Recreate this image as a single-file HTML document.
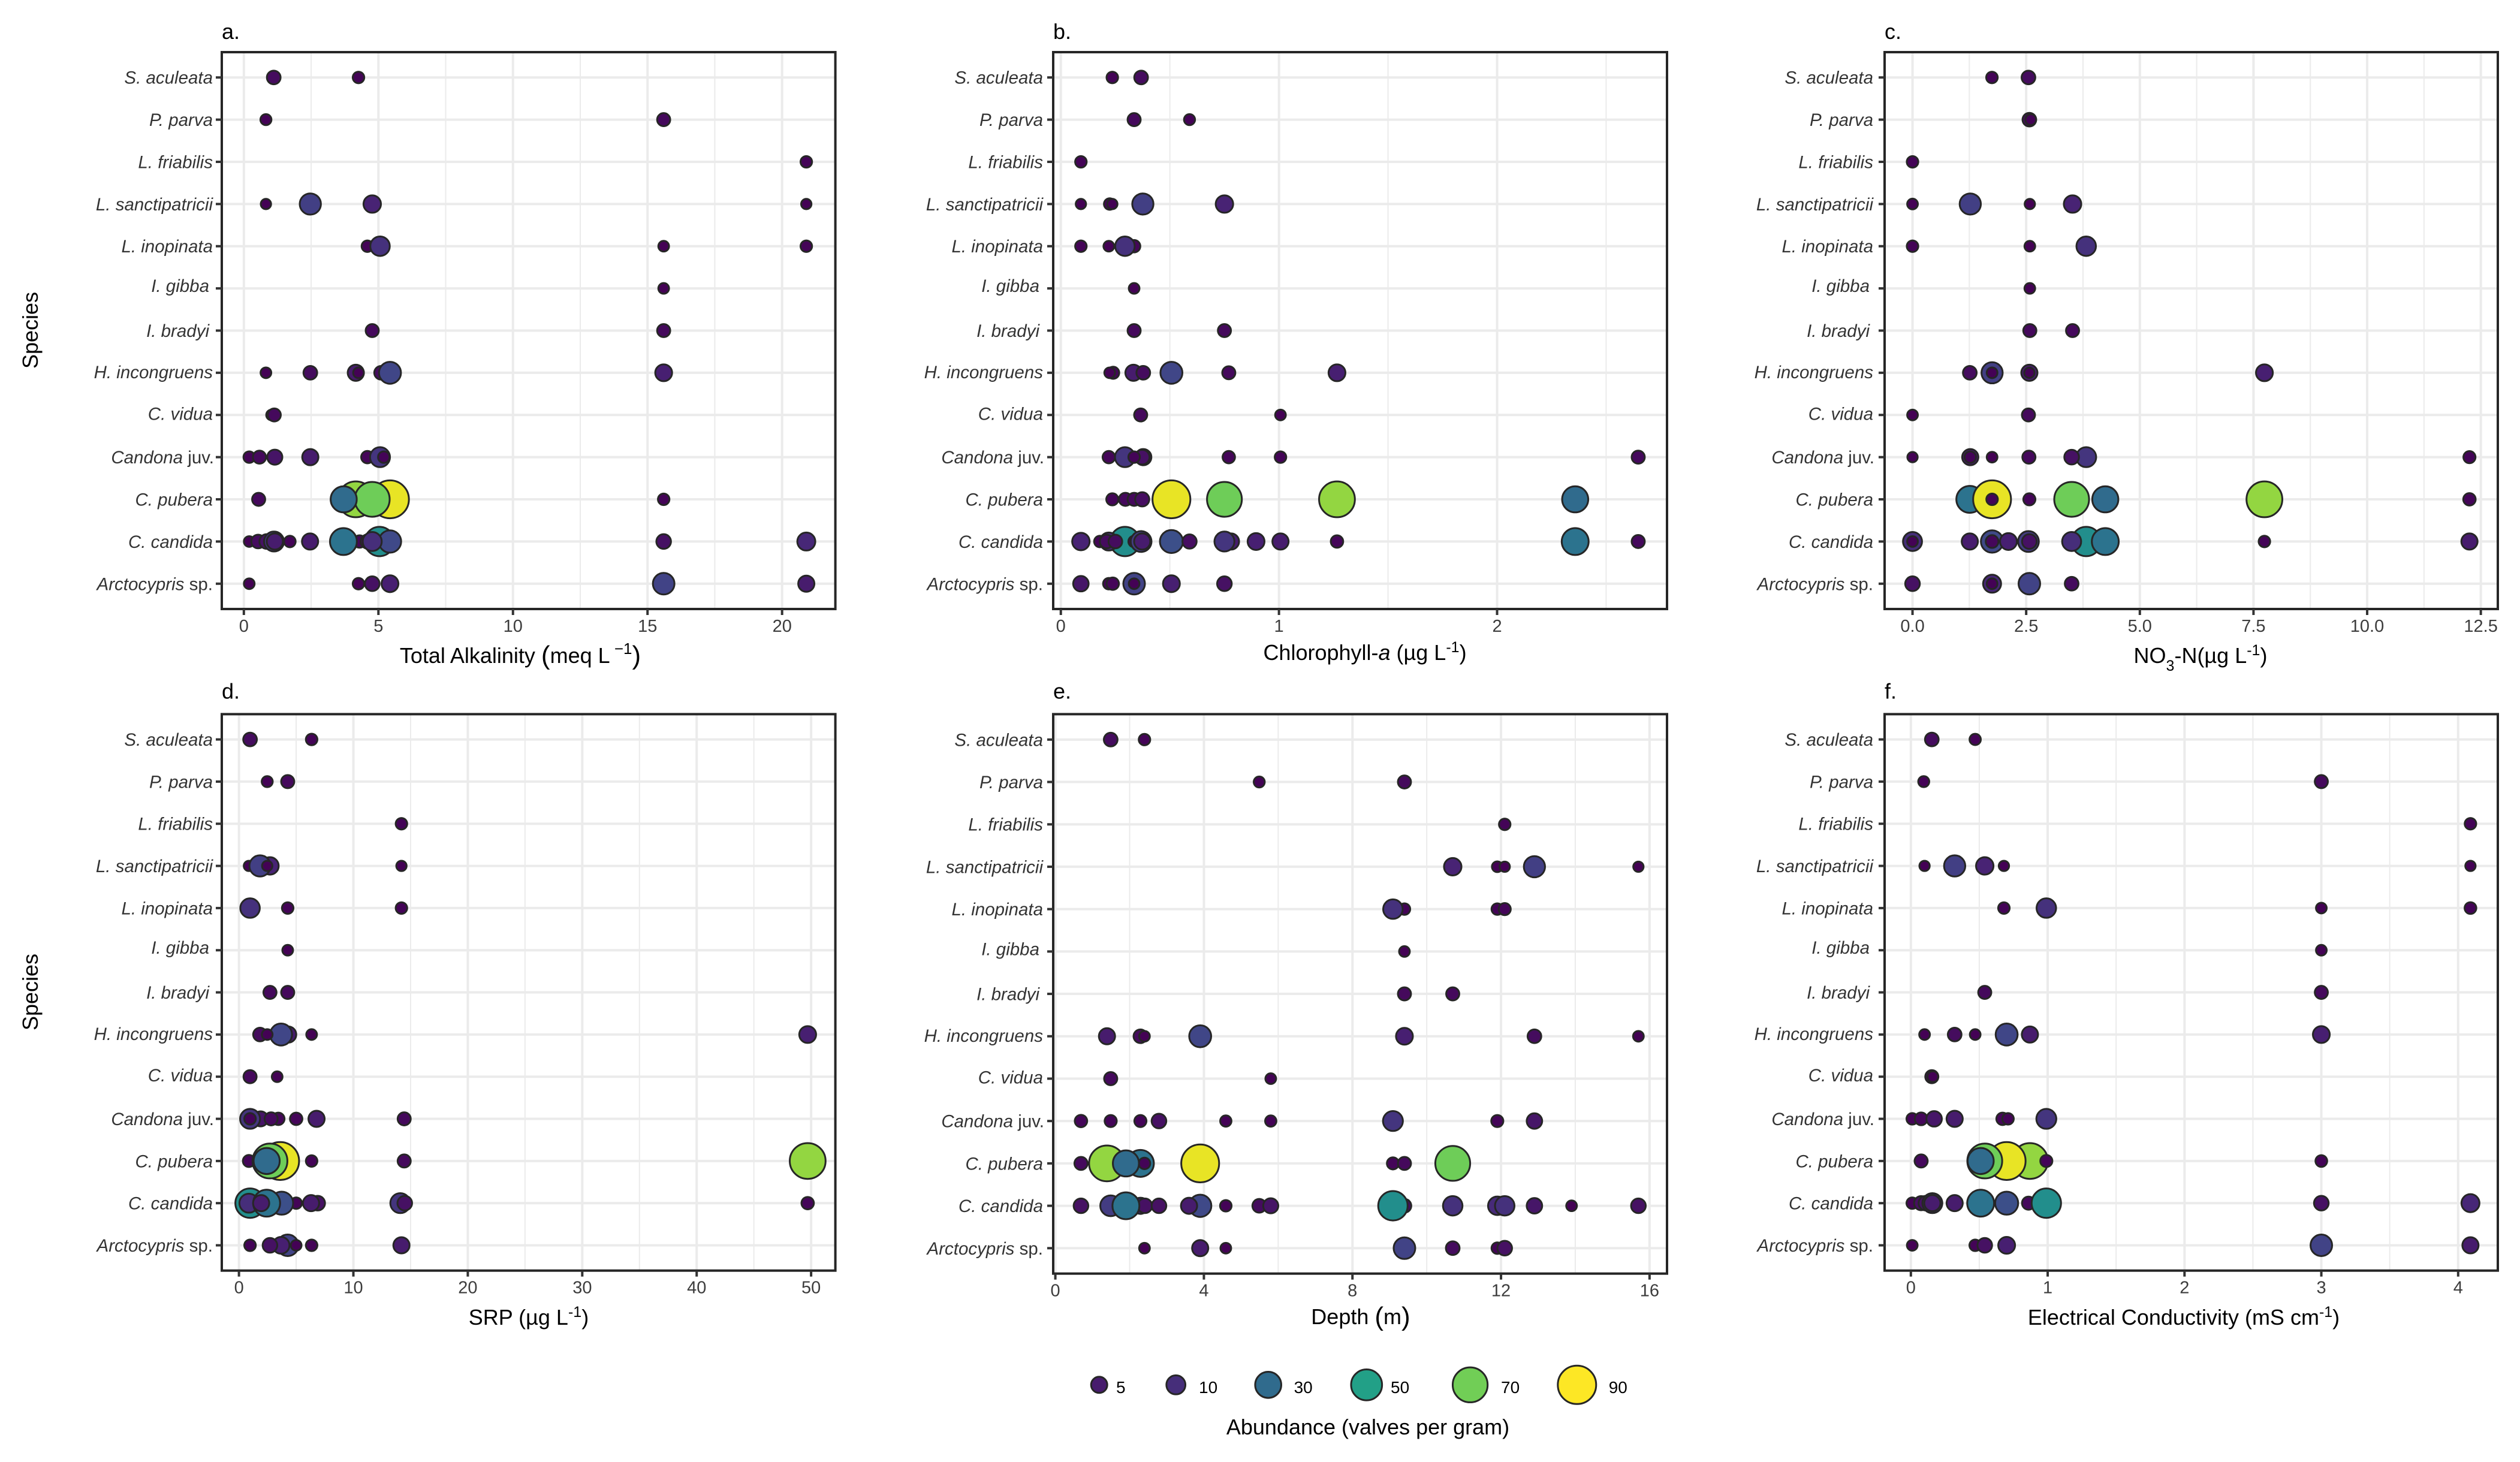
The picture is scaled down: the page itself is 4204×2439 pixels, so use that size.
<!DOCTYPE html>
<html lang="en">
<head>
<meta charset="utf-8">
<title>Species abundance vs environmental variables</title>
<style>
html,body{margin:0;padding:0;background:#fff;}
svg{display:block;font-family:"Liberation Sans",sans-serif;}
</style>
</head>
<body>
<svg id="chart" xmlns="http://www.w3.org/2000/svg" width="4204" height="2439" viewBox="0 0 4204 2439">
<rect x="0" y="0" width="4204" height="2439" fill="#fff"/>
<text transform="translate(63,551) rotate(-90)" text-anchor="middle" font-size="36" fill="#000">Species</text>
<text transform="translate(63,1655) rotate(-90)" text-anchor="middle" font-size="36" fill="#000">Species</text>
<text x="868" y="1106" text-anchor="middle" font-size="36" fill="#000">Total Alkalinity <tspan font-size="44" dy="2">(</tspan><tspan dy="-2">meq L</tspan><tspan font-size="26" dy="-15"> −1</tspan><tspan font-size="44" dy="17">)</tspan></text>
<text x="2277" y="1101" text-anchor="middle" font-size="36" fill="#000">Chlorophyll-<tspan font-style="italic">a</tspan> (µg L<tspan font-size="25" dy="-13">-1</tspan><tspan dy="13">)</tspan></text>
<text x="3671" y="1106" text-anchor="middle" font-size="36" fill="#000">NO<tspan font-size="25" dy="13">3</tspan><tspan dy="-13">-N(µg L</tspan><tspan font-size="25" dy="-13">-1</tspan><tspan dy="13">)</tspan></text>
<text x="882" y="2210" text-anchor="middle" font-size="36" fill="#000">SRP (µg L<tspan font-size="25" dy="-13">-1</tspan><tspan dy="13">)</tspan></text>
<text x="2270" y="2209" text-anchor="middle" font-size="36" fill="#000">Depth <tspan font-size="44" dy="2">(</tspan><tspan dy="-2">m</tspan><tspan font-size="44" dy="2">)</tspan></text>
<text x="3643" y="2210" text-anchor="middle" font-size="36" fill="#000">Electrical Conductivity (mS cm<tspan font-size="25" dy="-13">-1</tspan><tspan dy="13">)</tspan></text>
<text x="2282" y="2393" text-anchor="middle" font-size="36" fill="#000">Abundance (valves per gram)</text>
</svg>
<script>
// Categories, top row first
const speciesItalic = ["S. aculeata","P. parva","L. friabilis","L. sanctipatricii","L. inopinata","I. gibba","I. bradyi","H. incongruens","C. vidua","Candona","C. pubera","C. candida","Arctocypris"];
const speciesPlain = ["","","","","","","","",""," juv.","",""," sp."];

// Each series: one list per species of [x value, abundance]
const alkalinityValues = [
[[1.11,2],[4.26,.5]],
[[.82,.3],[15.6,1.5]],
[[20.9,.5]],
[[.82,.1],[2.47,15],[4.77,7],[20.9,.1]],
[[4.59,.5],[5.06,11],[15.6,.2],[20.9,.5]],
[[15.6,.2]],
[[4.77,1.5],[15.6,1.5]],
[[.82,.2],[2.47,2],[4.16,5],[4.26,.2],[5.1,2],[5.43,17],[15.6,6]],
[[1.03,.2],[1.13,1.5]],
[[.2,.5],[.58,1.5],[1.15,3.5],[2.47,5],[4.59,1],[5.06,12],[5.2,.5]],
[[.55,1.5],[15.6,.5],[5.43,87],[4.16,75],[4.77,69.5],[3.71,30]],
[[.2,.2],[.53,2],[.85,3],[1.12,12],[1.15,5],[1.71,.5],[2.46,5],[5.04,43],[4.3,1],[4.6,2.5],[5.43,18],[4.77,10],[3.7,33],[15.6,3],[20.9,8]],
[[.2,.2],[4.26,.5],[4.77,3],[5.43,6],[15.6,16],[20.9,5]]
];
const chlorophyllValues = [
[[.236,.5],[.368,2]],
[[.336,1.5],[.59,.3]],
[[.092,.5]],
[[.092,.1],[.224,.5],[.236,.1],[.376,15],[.75,7]],
[[.092,.5],[.22,.2],[.336,1],[.294,11]],
[[.336,.2]],
[[.336,1.5],[.75,1.5]],
[[.24,.8],[.224,.2],[.333,5],[.378,2],[.507,17],[.77,1.5],[1.266,6]],
[[.366,1.5],[1.007,.2]],
[[.22,1],[.294,12],[.378,5],[.373,3],[.336,.5],[.77,1],[1.007,.5],[2.647,1.5]],
[[.236,.8],[.296,1.5],[.336,1.5],[.373,2.5],[.507,87],[.75,69.5],[1.266,75],[2.358,30]],
[[.092,7],[.179,.5],[.294,43],[.22,8],[.21,2],[.25,2],[.336,.5],[.368,14],[.373,5],[.507,20],[.59,2.5],[.78,5],[.75,12],[.895,6],[1.007,5],[1.266,1],[2.358,33],[2.647,1.5]],
[[.092,4],[.22,.5],[.238,1],[.336,16],[.336,.2],[.507,6],[.75,3]]
];
const nitrateValues = [
[[1.747,.5],[2.55,2]],
[[2.57,2],[2.6,.2]],
[[0,.5]],
[[0,.2],[1.27,15],[2.58,.1],[3.52,7]],
[[0,.5],[2.58,.2],[3.82,11]],
[[2.58,.2]],
[[2.58,1.5],[3.52,1.5]],
[[1.26,2],[1.75,15],[1.75,.2],[2.57,5],[2.57,.1],[7.74,6]],
[[0,.2],[2.55,1.5]],
[[0,.1],[1.27,5],[1.27,.5],[1.75,.2],[2.56,1.5],[3.82,12],[3.5,3],[12.25,.8]],
[[1.26,33],[1.75,87],[1.75,.5],[2.57,.8],[3.5,69.5],[4.24,30],[7.74,75],[12.25,1]],
[[0,10],[0,.2],[1.26,5],[1.75,18],[1.75,1.2],[2.11,6],[2.55,14],[2.57,3],[3.82,43],[3.5,10],[4.24,33],[7.74,.5],[12.25,5]],
[[0,3],[1.75,8],[1.75,.2],[2.57,16],[3.5,2]]
];
const srpValues = [
[[.97,2],[6.35,.5]],
[[2.47,.3],[4.26,1.5]],
[[14.2,.5]],
[[.87,.1],[2.71,7],[1.84,15],[2.47,.1],[14.2,.1]],
[[.97,11],[4.26,.5],[14.2,.5]],
[[4.26,.2]],
[[2.71,1.5],[4.26,1.5]],
[[1.84,2],[4.3,5],[3.68,17],[2.47,.2],[6.35,.2],[49.7,6]],
[[.97,1.5],[3.34,.2]],
[[3.44,1],[1.89,3.5],[2.81,1.5],[.97,12],[.97,.5],[5,1],[6.78,5],[14.44,1.5]],
[[.87,.8],[3.6,87],[2.71,69.5],[2.42,30],[6.35,.5],[14.44,1.5],[49.7,75]],
[[.97,43],[.87,10],[5,.5],[3.73,20],[2.42,33],[1.94,5],[6.88,3],[6.3,5],[14.1,12],[14.49,3],[49.7,1]],
[[.97,.5],[4.26,16],[5,.2],[3.68,6],[2.71,3],[6.35,.5],[14.2,5]]
];
const depthValues = [
[[1.49,2],[2.4,.5]],
[[5.49,.3],[9.4,1.5]],
[[12.1,.5]],
[[10.7,7],[11.9,.2],[12.1,.1],[12.9,15],[15.7,.1]],
[[9.4,.5],[9.09,11],[11.9,.5],[12.1,.8]],
[[9.4,.2]],
[[9.4,1.5],[10.7,1.5]],
[[1.39,5],[2.29,2],[2.4,.2],[3.9,17],[9.4,6],[12.9,2],[15.7,.2]],
[[1.49,1.5],[5.8,.2]],
[[.69,1],[1.49,.8],[2.29,.8],[2.79,3],[4.59,.4],[5.8,.4],[9.09,12],[11.9,.8],[12.9,4]],
[[.69,1.5],[1.39,75],[2.29,33],[2.4,.5],[1.9,30],[3.9,87],[9.09,.8],[9.4,1.5],[10.7,69.5]],
[[.69,3],[1.49,14],[2.29,5],[2.41,3],[1.9,33],[2.79,3],[3.9,18],[3.6,5],[4.59,.5],[5.49,2],[5.8,3.5],[9.4,2],[9.09,43],[10.7,11],[11.9,9],[12.1,11],[12.9,4],[13.9,.2],[15.7,3]],
[[2.4,.2],[3.9,5],[4.59,.2],[9.4,16],[10.7,2],[11.9,.5],[12.1,3]]
];
const conductivityValues = [
[[.153,2],[.47,.4]],
[[.094,.3],[3,1.5]],
[[4.09,.5]],
[[.1,.1],[.32,15],[.54,7],[.68,.1],[4.09,.1]],
[[.68,.5],[.99,11],[3,.2],[4.09,.6]],
[[3,.2]],
[[.54,1.5],[3,1.5]],
[[.1,.2],[.32,2],[.47,.2],[.7,17],[.87,5],[3,6]],
[[.153,1.5],[.16,.2]],
[[.01,.5],[.075,1.2],[.17,4],[.32,5],[.67,1],[.71,.5],[.99,12]],
[[.075,1.5],[.87,75],[.7,87],[.54,69.5],[.51,30],[.99,.8],[3,.6]],
[[.01,.5],[.075,2.5],[.11,3],[.157,12],[.157,5],[.32,5],[.51,33],[.7,20],[.86,1.5],[.99,43],[3,3],[4.09,8]],
[[.01,.2],[.47,.5],[.54,3],[.7,6],[3,16],[4.09,5]]
];

// Axis ticks and limits
const alkalinityTicks = [0,5,10,15,20];
const alkalinityTickLabels = ["0","5","10","15","20"];
const alkalinityLimits = [-.82,21.98];
const chlorophyllTicks = [0,1,2];
const chlorophyllTickLabels = ["0","1","2"];
const chlorophyllLimits = [-.035,2.779];
const nitrateTicks = [0,2.5,5,7.5,10,12.5];
const nitrateTickLabels = ["0.0","2.5","5.0","7.5","10.0","12.5"];
const nitrateLimits = [-.614,12.874];
const srpTicks = [0,10,20,30,40,50];
const srpTickLabels = ["0","10","20","30","40","50"];
const srpLimits = [-1.5,52.12];
const depthTicks = [0,4,8,12,16];
const depthTickLabels = ["0","4","8","12","16"];
const depthLimits = [-.058,16.47];
const conductivityTicks = [0,1,2,3,4];
const conductivityTickLabels = ["0","1","2","3","4"];
const conductivityLimits = [-.192,4.29];

// Legend
const legendValues = [5,10,30,50,70,90];
const legendLabels = ["5","10","30","50","70","90"];

const NS = "http://www.w3.org/2000/svg";
const svg = document.getElementById("chart");
const viridis = ["#440154","#482475","#414487","#355f8d","#2a788e","#21918c","#22a884","#44bf70","#7ad151","#bddf26","#fde725"];

function hex(c){return [1,3,5].map(i=>parseInt(c.substr(i,2),16));}
function colorFor(ab){
  const u = ab<5 ? ab*.0152 : (ab+2)/92;
  const t = Math.min(1,Math.max(0,u))*(viridis.length-1);
  const i = Math.min(viridis.length-2,Math.floor(t));
  const f = t-i, a = hex(viridis[i]), b = hex(viridis[i+1]);
  return "rgb("+a.map((v,k)=>Math.round(v+(b[k]-v)*f)).join(",")+")";
}
function diameterFor(ab){return 18.6+5.1*Math.sqrt(ab);}
function make(tag,attrs,parent){
  const el = document.createElementNS(NS,tag);
  for(const k in attrs) el.setAttribute(k,attrs[k]);
  (parent||svg).appendChild(el);
  return el;
}

function drawPanel(opt){
  const L=opt.left,R=opt.right,T=opt.top,B=opt.bottom;
  const xs = v => L+(v-opt.limits[0])/(opt.limits[1]-opt.limits[0])*(R-L);
  const ys = i => T+(i+.6)*(B-T)/13.2;
  const g = make("g",{});
  
  

  // minor grid
  const step = opt.ticks[1]-opt.ticks[0];
  const minors = opt.ticks.map(t=>t+step/2).filter(v=>v>opt.limits[0]&&v<opt.limits[1]);
  minors.forEach(v=>{
    const ln = make("line",{x1:xs(v),x2:xs(v),y1:T,y2:B,stroke:"#ebebeb","stroke-width":2},g);
    
    
  });
  // major grid
  opt.ticks.forEach(v=>{
    const ln = make("line",{x1:xs(v),x2:xs(v),y1:T,y2:B,stroke:"#ebebeb","stroke-width":4},g);
    
    
  });
  speciesItalic.forEach((s,i)=>{
    const ln = make("line",{x1:L,x2:R,y1:ys(i),y2:ys(i),stroke:"#ebebeb","stroke-width":4},g);
    
    
  });
  // marks
  opt.values.forEach((row,i)=>{
    row.forEach(p=>{
      const d = diameterFor(p[1]);
      const c = make("circle",{cx:xs(p[0]),cy:ys(i),r:(d-3)/2,fill:colorFor(p[1]),stroke:"#262626","stroke-width":3},g);
      
      
    });
  });
  // border
  const border = make("rect",{x:L,y:T,width:R-L,height:B-T,fill:"none",stroke:"#262626","stroke-width":4},g);
  
  
  // x ticks
  opt.ticks.forEach((v,k)=>{
    const tk = make("line",{x1:xs(v),x2:xs(v),y1:B,y2:B+10,stroke:"#333","stroke-width":4},g);
    
    
    const lb = make("text",{x:xs(v),y:B+38,"text-anchor":"middle","font-size":29,fill:"#3c3c3c"},g);
    lb.textContent = opt.tickLabels[k];
    
    
  });
  // y ticks
  speciesItalic.forEach((s,i)=>{
    const tk = make("line",{x1:L-10,x2:L,y1:ys(i),y2:ys(i),stroke:"#333","stroke-width":4},g);
    
    
    const off = s==="I. gibba"?6:(s==="C. vidua"?8:(s==="H. incongruens"?9:10.5));
    const shift = (s==="I. gibba"||s==="I. bradyi")?6:(speciesPlain[i]===" juv."?-2:0);
    const lb = make("text",{x:L-opt.labelGap-shift,y:ys(i)+off,"text-anchor":"end","font-size":29.5,fill:"#333"},g);
    
    
    const it = make("tspan",{"font-style":"italic"},lb);
    it.textContent = s;
    if(speciesPlain[i]){
      const pl = make("tspan",{},lb);
      pl.textContent = speciesPlain[i];
    }
  });
  // panel tag
  const tag = make("text",{x:L,y:opt.tagY,"font-size":36,fill:"#000"},g);
  tag.textContent = opt.id+".";
  
  
}

const colA=[370,1393.6], colB=[1757,2781], colC=[3144,4167];
drawPanel({id:"a",labelGap:15,left:colA[0],right:colA[1],top:87,bottom:1016,tagY:65,limits:alkalinityLimits,ticks:alkalinityTicks,tickLabels:alkalinityTickLabels,values:alkalinityValues});
drawPanel({id:"b",labelGap:17,left:colB[0],right:colB[1],top:87,bottom:1016,tagY:65,limits:chlorophyllLimits,ticks:chlorophyllTicks,tickLabels:chlorophyllTickLabels,values:chlorophyllValues});
drawPanel({id:"c",labelGap:19,left:colC[0],right:colC[1],top:87,bottom:1016,tagY:65,limits:nitrateLimits,ticks:nitrateTicks,tickLabels:nitrateTickLabels,values:nitrateValues});
drawPanel({id:"d",labelGap:15,left:colA[0],right:colA[1],top:1191.4,bottom:2119.7,tagY:1165.5,limits:srpLimits,ticks:srpTicks,tickLabels:srpTickLabels,values:srpValues});
drawPanel({id:"e",labelGap:17,left:colB[0],right:colB[1],top:1191.4,bottom:2124.7,tagY:1165.5,limits:depthLimits,ticks:depthTicks,tickLabels:depthTickLabels,values:depthValues});
drawPanel({id:"f",labelGap:19,left:colC[0],right:colC[1],top:1191.4,bottom:2119.7,tagY:1165.5,limits:conductivityLimits,ticks:conductivityTicks,tickLabels:conductivityTickLabels,values:conductivityValues});

// Legend layout (screen positions per entry, separate from the values)
const legendCx = [1833.7,1961.7,2115.7,2279.8,2452.6,2630.8];
const legendTx = [1862,2000,2158.6,2320,2504,2683.7];
legendValues.forEach((v,i)=>{
  const d = diameterFor(v);
  const c = make("circle",{cx:legendCx[i],cy:2310.3,r:(d-3)/2,fill:colorFor(v),stroke:"#262626","stroke-width":3});
  
  
  const t = make("text",{x:legendTx[i],y:2324,"font-size":28,fill:"#000"});
  t.textContent = legendLabels[i];
  
  
});
</script>
</body>
</html>
